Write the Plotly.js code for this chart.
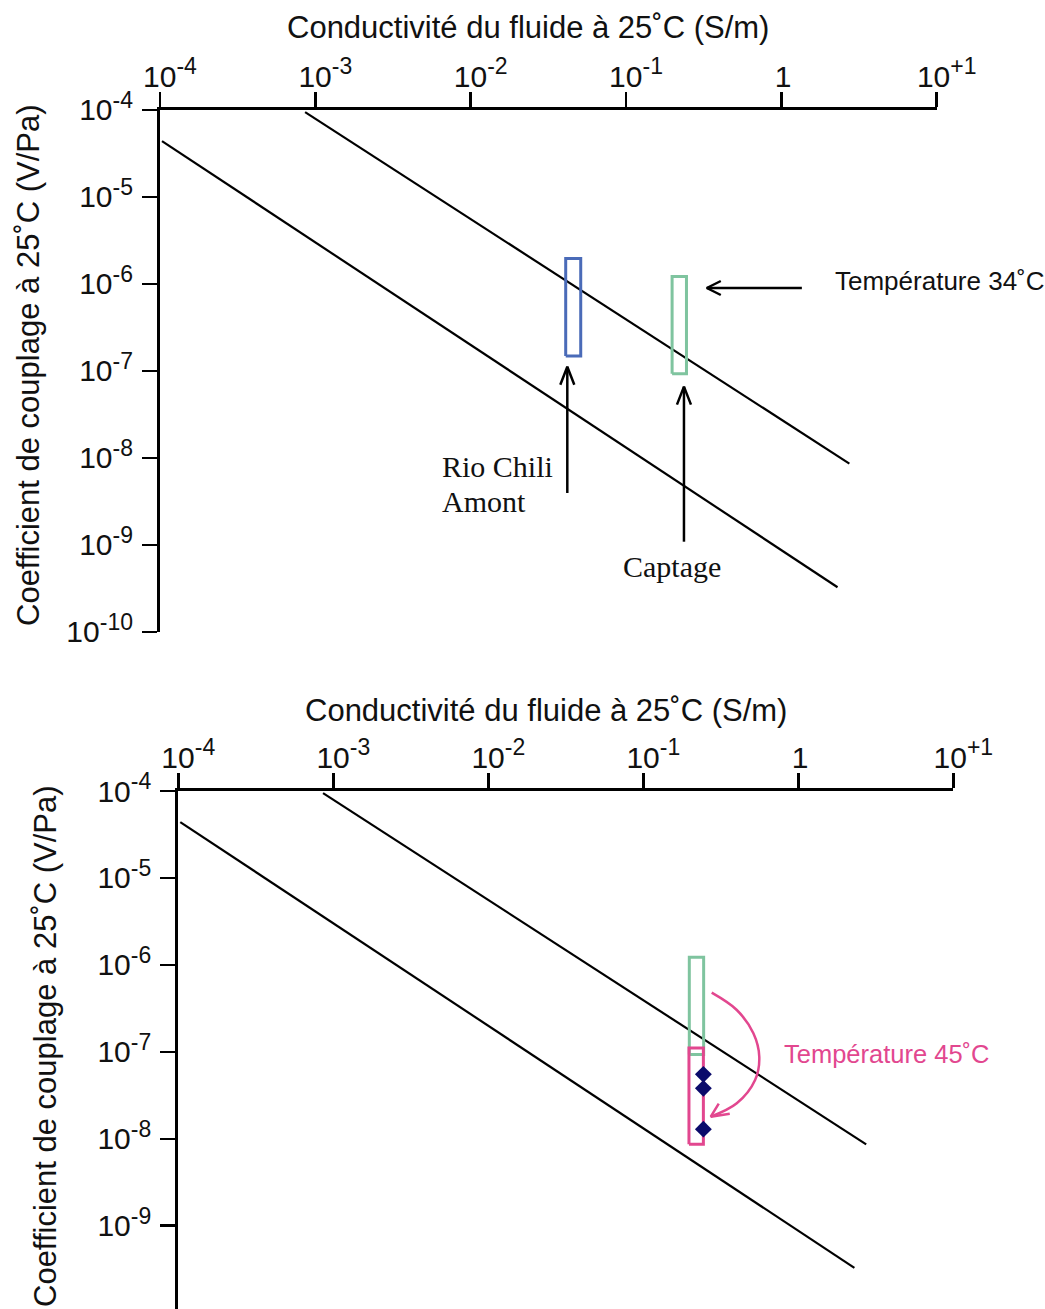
<!DOCTYPE html>
<html>
<head>
<meta charset="utf-8">
<script src="https://cdn.plot.ly/plotly-3.0.1.min.js"></script>
<style>html,body{margin:0;padding:0;background:#fff;}#chart{width:1045px;height:1309px;}</style>
</head>
<body>
<div id="chart"></div>
<script>
// ---------- data ----------
const xTickVals = [1e-4, 1e-3, 1e-2, 1e-1, 1, 10];
const xTickExp = ['-4', '-3', '-2', '-1', null, '+1'];
const yTickVals = [1e-4, 1e-5, 1e-6, 1e-7, 1e-8, 1e-9, 1e-10];
const yTickExp = ['-4', '-5', '-6', '-7', '-8', '-9', '-10'];

const xTitle = 'Conductivité du fluide à 25˚C (S/m)';
const yTitle = 'Coefficient de couplage à 25˚C (V/Pa)';

// two reference lines (conductivity S/m, coupling coefficient V/Pa)
const upperLineX = [8.59e-4, 2.74];
const upperLineY = [9.44e-5, 8.63e-9];
const lowerLineX = [1.03e-4, 2.30];
const lowerLineY = [4.39e-5, 3.27e-10];

// measurement ranges (boxes): [min, max]
const rioChiliX = [0.0409, 0.0511];
const rioChiliY = [1.49e-7, 1.97e-6];
const captageX = [0.198, 0.245];
const captageY = [9.3e-8, 1.22e-6];
const captage45X = [0.197, 0.244];
const captage45Y = [8.63e-9, 1.11e-7];

// corrected measurements at 45 °C
const measuresX = [0.244, 0.244, 0.244];
const measuresY = [5.51e-8, 3.80e-8, 1.29e-8];

// ---------- styles ----------
const BLUE = '#4a6bb8', GREEN = '#7fc49f', PINK = '#e2478f', NAVY = '#0b0b6b';
const SANS = 'Liberation Sans, Arial, Helvetica, sans-serif';
const SERIF = 'Liberation Serif, Times New Roman, serif';
const supLabel = e => e === null ? '1\u00a0\u00a0' : '10<sup><span style="font-size:23px">' + e + '</span></sup>';
const xTickText = xTickExp.map(supLabel);
const yTickText = yTickExp.map(supLabel);

const W = 1045, H = 1309;
const topX = [0.15311, 0.89636], topY = [0.51719, 0.91597];
const botX = [0.1706, 0.9123], botY = [0, 0.39572];
const topYRange = [-10, -4], botYRange = [-9.958, -4];
const xRange = [-4, 1];

function pxPerDecade(dom, range, size) { return (dom[1] - dom[0]) * size / (range[1] - range[0]); }
const panels = {
  top: {xa: 'x', ya: 'y', ppx: pxPerDecade(topX, xRange, W), ppy: pxPerDecade(topY, topYRange, H)},
  bot: {xa: 'x2', ya: 'y2', ppx: pxPerDecade(botX, xRange, W), ppy: pxPerDecade(botY, botYRange, H)}
};

function box(xs, ys, color, p) {
  return {type: 'scatter', mode: 'lines', xaxis: p.xa, yaxis: p.ya,
    x: [xs[0], xs[1], xs[1], xs[0], xs[0]], y: [ys[0], ys[0], ys[1], ys[1], ys[0]],
    line: {color: color, width: 3}, hoverinfo: 'skip'};
}
function line(xs, ys, p) {
  return {type: 'scatter', mode: 'lines', xaxis: p.xa, yaxis: p.ya, x: xs, y: ys,
    line: {color: '#000', width: 2.2}, hoverinfo: 'skip'};
}
// decoration helpers: positions in log10 units, arm offsets in screen pixels (y down)
function shaft(p, pts, color, shape) {
  return {type: 'scatter', mode: 'lines', xaxis: p.xa, yaxis: p.ya,
    x: pts.map(q => Math.pow(10, q[0])), y: pts.map(q => Math.pow(10, q[1])),
    line: {color: color, width: 2.5, shape: shape || 'linear'}, hoverinfo: 'skip'};
}
function head(p, tip, arms, color) {
  const pt = d => [Math.pow(10, tip[0] + d[0] / p.ppx), Math.pow(10, tip[1] - d[1] / p.ppy)];
  const a = pt(arms[0]), b = pt([0, 0]), c = pt(arms[1]);
  return {type: 'scatter', mode: 'lines', xaxis: p.xa, yaxis: p.ya,
    x: [a[0], b[0], c[0]], y: [a[1], b[1], c[1]],
    line: {color: color, width: 2.5}, hoverinfo: 'skip'};
}

const T = panels.top, B = panels.bot;
const data = [
  // top panel
  line(upperLineX, upperLineY, T),
  line(lowerLineX, lowerLineY, T),
  box(rioChiliX, rioChiliY, BLUE, T),
  box(captageX, captageY, GREEN, T),
  shaft(T, [[0.132, -6.046], [-0.480, -6.046]], '#000'),
  head(T, [-0.480, -6.046], [[14, -7], [14, 7]], '#000'),
  shaft(T, [[-1.378, -8.402], [-1.378, -6.951]], '#000'),
  head(T, [-1.378, -6.951], [[-7, 18], [7, 18]], '#000'),
  shaft(T, [[-0.627, -8.962], [-0.627, -7.180]], '#000'),
  head(T, [-0.627, -7.180], [[-7, 18], [7, 18]], '#000'),
  // bottom panel
  line(upperLineX, upperLineY, B),
  line(lowerLineX, lowerLineY, B),
  box(captageX, captageY, GREEN, B),
  box(captage45X, captage45Y, PINK, B),
  {type: 'scatter', mode: 'markers', xaxis: 'x2', yaxis: 'y2', x: measuresX, y: measuresY,
   marker: {symbol: 'diamond', size: 13, color: NAVY}, hoverinfo: 'skip'},
  shaft(B, [[-0.559, -6.320], [-0.397, -6.519], [-0.290, -6.787], [-0.252, -7.056],
            [-0.279, -7.324], [-0.397, -7.592], [-0.565, -7.746]], PINK, 'spline'),
  head(B, [-0.565, -7.746], [[19, -3], [8, -13]], PINK)
];

const tickFont = {family: SANS, size: 30, color: '#111'};
function xAxis(dom, anchor) {
  return {type: 'log', range: xRange, domain: dom, anchor: anchor, side: 'top',
    showline: true, linecolor: '#000', linewidth: 3, mirror: false,
    ticks: 'outside', ticklen: 15, tickwidth: 2.5, tickcolor: '#000',
    tickmode: 'array', tickvals: xTickVals, ticktext: xTickText, tickfont: tickFont,
    ticklabelshift: 10, ticklabelstandoff: -7,
    showgrid: false, zeroline: false, automargin: false, fixedrange: true};
}
function yAxis(dom, anchor, range) {
  return {type: 'log', range: range, domain: dom, anchor: anchor, side: 'left',
    showline: true, linecolor: '#000', linewidth: 3, mirror: false,
    ticks: 'outside', ticklen: 15, tickwidth: 2.5, tickcolor: '#000',
    tickmode: 'array', tickvals: yTickVals, ticktext: yTickText, tickfont: tickFont,
    ticklabelstandoff: 3,
    showgrid: false, zeroline: false, automargin: false, fixedrange: true};
}

const titleFont = {family: SANS, size: 31, color: '#111'};
const annotations = [
  {xref: 'paper', yref: 'paper', x: 528 / W, y: 1 - 28 / H, text: xTitle, showarrow: false,
   xanchor: 'center', yanchor: 'middle', font: titleFont},
  {xref: 'paper', yref: 'paper', x: 28 / W, y: 1 - 365 / H, text: yTitle, showarrow: false,
   textangle: -90, xanchor: 'center', yanchor: 'middle', font: titleFont},
  {xref: 'paper', yref: 'paper', x: 546 / W, y: 1 - 710 / H, text: xTitle, showarrow: false,
   xanchor: 'center', yanchor: 'middle', font: titleFont},
  {xref: 'paper', yref: 'paper', x: 45 / W, y: 1 - 1046 / H, text: yTitle, showarrow: false,
   textangle: -90, xanchor: 'center', yanchor: 'middle', font: titleFont},
  // top panel labels (log10 coordinates)
  {xref: 'x', yref: 'y', x: 0.3325, y: -5.966, text: 'Température 34˚C', showarrow: false,
   xanchor: 'left', yanchor: 'middle', font: {family: SANS, size: 26, color: '#111'}},
  {xref: 'x', yref: 'y', x: -2.1975, y: -8.100, text: 'Rio Chili', showarrow: false,
   xanchor: 'left', yanchor: 'middle', font: {family: SERIF, size: 30, color: '#111'}},
  {xref: 'x', yref: 'y', x: -2.1975, y: -8.502, text: 'Amont', showarrow: false,
   xanchor: 'left', yanchor: 'middle', font: {family: SERIF, size: 30, color: '#111'}},
  {xref: 'x', yref: 'y', x: -0.7059, y: -9.249, text: 'Captage', showarrow: false,
   xanchor: 'center', yanchor: 'middle', font: {family: SERIF, size: 30, color: '#111'}},
  // bottom panel label
  {xref: 'x2', yref: 'y2', x: -0.107, y: -7.025, text: 'Température 45˚C', showarrow: false,
   xanchor: 'left', yanchor: 'middle', font: {family: SANS, size: 25.5, color: PINK}}
];

const layout = {
  width: W, height: H,
  margin: {l: 0, r: 0, t: 0, b: 0, pad: 0},
  paper_bgcolor: '#fff', plot_bgcolor: 'rgba(0,0,0,0)',
  showlegend: false,
  xaxis: xAxis(topX, 'y'), yaxis: yAxis(topY, 'x', topYRange),
  xaxis2: xAxis(botX, 'y2'), yaxis2: yAxis(botY, 'x2', botYRange),
  annotations: annotations
};

Plotly.newPlot('chart', data, layout, {staticPlot: true, displayModeBar: false});
</script>
</body>
</html>
